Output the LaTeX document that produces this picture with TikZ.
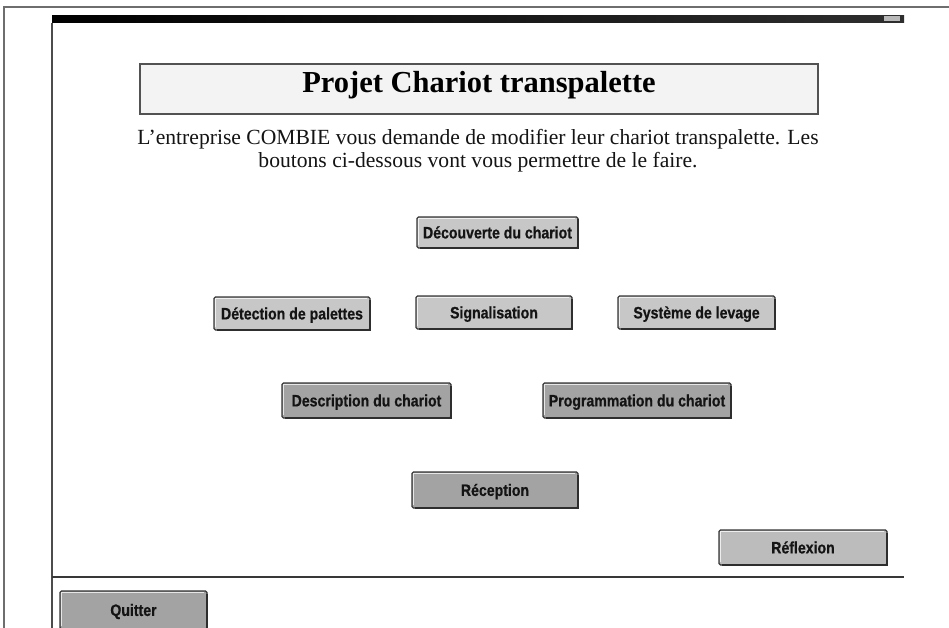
\documentclass[tikz,border=0pt]{standalone}
\usepackage{fontspec}
\setmainfont{Liberation Serif}
\newfontfamily\btnfont[UprightFont={* Bold}, FakeStretch=0.855, FakeBold=0.6]{Liberation Sans}
\definecolor{framegray}{HTML}{6E6E6E}
\definecolor{btnedge}{HTML}{363636}
\definecolor{btnlight}{HTML}{C7C7C7}
\definecolor{btndark}{HTML}{A3A3A3}
\definecolor{btnmid}{HTML}{BCBCBC}
\definecolor{titlefill}{HTML}{F3F3F3}
\tikzset{
  btn/.style={draw=btnedge, line width=1.2pt, rounded corners=1.5pt, inner sep=0pt, outer sep=0pt,
    text height=11.8pt, text depth=0pt, font=\btnfont\fontsize{16.5}{19}\selectfont, text=black!92},
  btnshadow/.style={line width=2.3pt, draw=btnedge!85!black},
  btnlightedge/.style={line width=1pt, draw=white, opacity=0.75},
  para/.style={anchor=base, inner sep=0pt, font=\fontsize{21.6}{23}\selectfont, text=black!92},
}
\begin{document}
\begin{tikzpicture}[x=1pt,y=-1pt]
\useasboundingbox (0,0) rectangle (949,628);
\clip (0,0) rectangle (949,628);
\fill[white] (0,0) rectangle (949,628);
% outer frame
\draw[framegray, line width=1.5pt] (4,630) -- (4,7) -- (950,7);
% window title bar
\shade[left color=black, right color=black!82] (52,16) rectangle (904,23);
\fill[gray!55] (884,16.5) rectangle (900,21.5);
% window left edge
\draw[black!70, line width=1.5pt] (52,23) -- (52,630);
% separator line
\draw[black!78, line width=2.6pt] (52,577) -- (904,577);
% title box
\node[draw=black!68, line width=1.5pt, fill=titlefill, minimum width=678pt, minimum height=50pt, inner sep=0pt, outer sep=0pt] (titlebox) at (479,89) {};
\node[anchor=base, inner sep=0pt, font=\bfseries\fontsize{30.5}{34}\selectfont] (titletext) at (479,93) {Projet Chariot transpalette};
% intro text
\node[para] (intro1) at (478,145) {L'entreprise COMBIE vous demande de modifier leur chariot transpalette. Les};
\node[para] (intro2) at (478,168) {boutons ci-dessous vont vous permettre de le faire.};
% buttons
\node[btn, fill=btnlight, minimum width=161pt, minimum height=31pt] (dec) at (497.5,232.5) {Découverte du chariot};
\node[btn, fill=btnlight, minimum width=156pt, minimum height=33pt] (det) at (292,313.5) {Détection de palettes};
\node[btn, fill=btnlight, minimum width=156pt, minimum height=33pt] (sig) at (494,312.5) {Signalisation};
\node[btn, fill=btnlight, minimum width=157pt, minimum height=33pt] (sys) at (696.5,312.5) {Système de levage};
\node[btn, fill=btndark, minimum width=169pt, minimum height=35pt] (desc) at (366.5,400.5) {Description du chariot};
\node[btn, fill=btndark, minimum width=188pt, minimum height=35pt] (prog) at (637,400.5) {Programmation du chariot};
\node[btn, fill=btndark, minimum width=166pt, minimum height=36pt] (rec) at (495,490) {Réception};
\node[btn, fill=btnmid, minimum width=168pt, minimum height=35pt] (refl) at (803,547.5) {Réflexion};
\node[btn, fill=btndark, minimum width=147pt, minimum height=38pt] (quit) at (133.5,610) {Quitter};
\foreach \b in {dec,det,sig,sys,desc,prog,rec,refl,quit}{
  \draw[btnlightedge] ([xshift=1.8pt, yshift=2.8pt]\b.south west) -- ([xshift=1.8pt, yshift=-1.8pt]\b.north west) -- ([xshift=-2.8pt, yshift=-1.8pt]\b.north east);
  \draw[btnshadow] ([yshift=-2.5pt]\b.north east) -- (\b.south east) -- ([xshift=2.5pt]\b.south west);
}
\end{tikzpicture}
\end{document}
